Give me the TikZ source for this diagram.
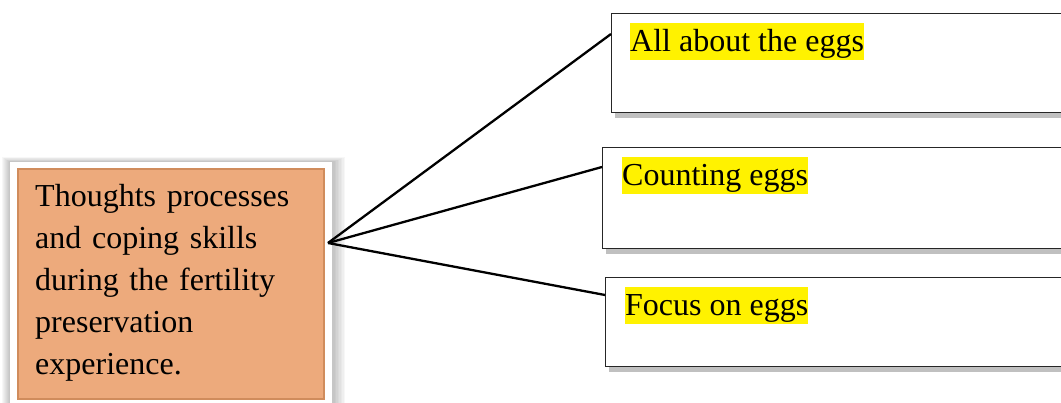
\documentclass[tikz,border=0pt]{standalone}
\usepackage{fontspec}
\setmainfont{Liberation Serif}
\usetikzlibrary{calc,shadows}
\definecolor{orangefill}{HTML}{EDAA7C}
\definecolor{orangeedge}{HTML}{D08C5C}
\begin{document}
\begin{tikzpicture}[x=1pt,y=-1pt,
  txt/.style={font=\fontsize{32}{42}\selectfont},
  box/.style={draw=black!85, line width=1.3pt, fill=white, anchor=north west, minimum width=520pt, inner sep=0pt,
    drop shadow={shadow xshift=3pt, shadow yshift=-5pt, fill=black!55, opacity=.45}},
  hl/.style={txt, fill=yellow, inner sep=0pt, text height=28.5pt, text depth=8.5pt, anchor=base west},
  conn/.style={line width=2.3pt, black}]
\useasboundingbox (0,0) rectangle (1061,403);
\clip (0,0) rectangle (1061,403);
% glow around the frame
\foreach \d in {1,...,8}
  \fill[black, opacity=0.03] (10-\d,162-0.6*\d) rectangle (333+1.5*\d,430);
\node[fill=white, anchor=north west, minimum width=322pt, minimum height=260pt, inner sep=0pt] (frame) at (10,162) {};
\node[fill=orangefill, draw=orangeedge, line width=2pt, anchor=north west, minimum width=306pt, minimum height=230pt, inner sep=0pt] (main) at (17,168) {};
\node[txt, text width=290pt, align=left, anchor=base west, inner sep=0pt] (maintext) at (35,207)
  {Thoughts processes\\and coping skills\\during the fertility\\preservation\\experience.};
\coordinate (hub) at (328,243);
% boxes
\node[box, minimum height=99pt] (b1) at (611,13) {};
\node[box, minimum height=101pt] (b2) at (602,147) {};
\node[box, minimum height=89pt] (b3) at (605,277) {};
\draw[conn] (hub) -- ($(b1.north west)+(0,21)$);
\draw[conn] (hub) -- ($(b2.north west)+(0,20)$);
\draw[conn] (hub) -- ($(b3.north west)+(0,18)$);
\node[hl] (l1) at (630,51.5) {All about the eggs};
\node[hl] (l2) at (622,185.5) {Counting eggs};
\node[hl] (l3) at (625,315.5) {Focus on eggs};
\end{tikzpicture}
\end{document}
